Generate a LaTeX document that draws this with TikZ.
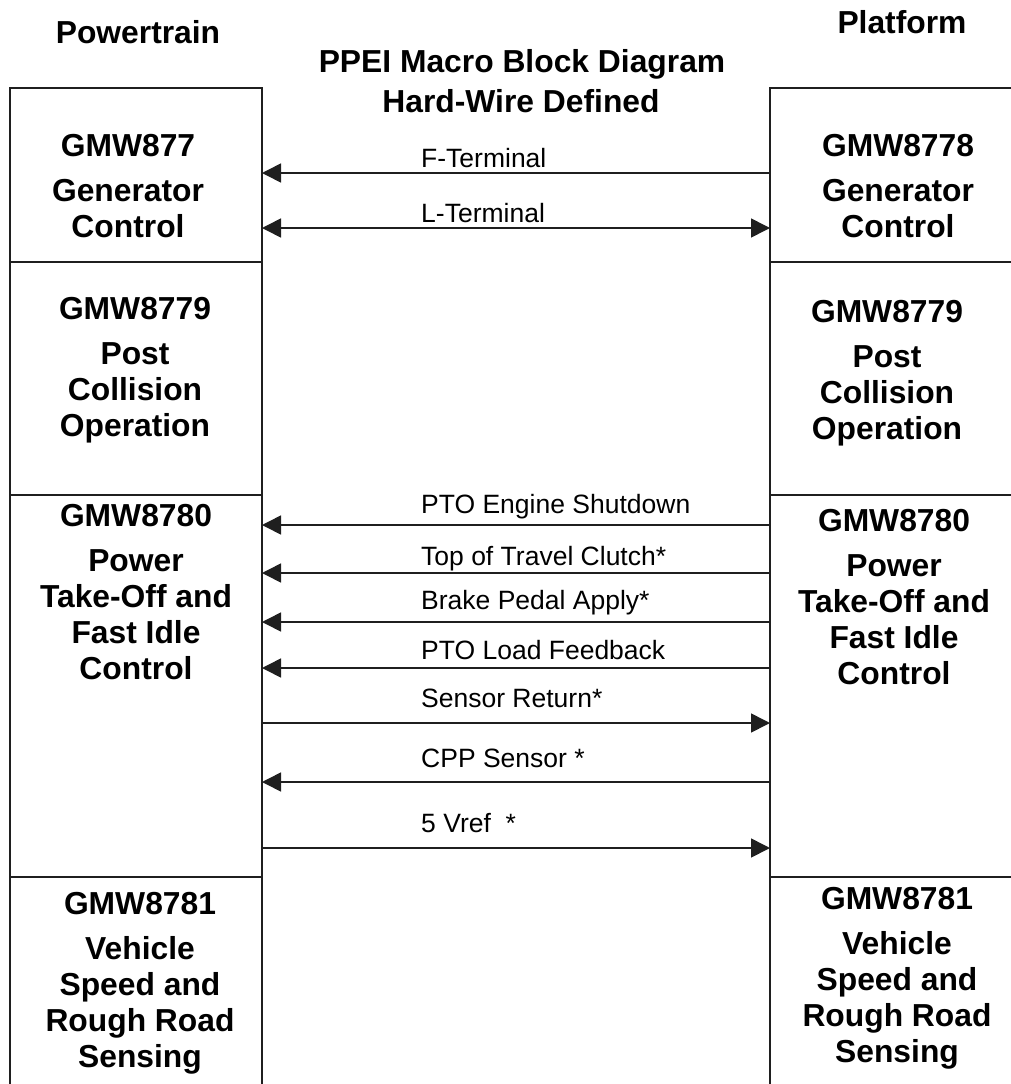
\documentclass[tikz,border=0pt]{standalone}
\usepackage{fontspec}
\setmainfont{Liberation Sans}
\usetikzlibrary{arrows.meta}
\begin{document}
\begin{tikzpicture}[x=1pt,y=-1pt,
  colline/.style={line width=1.6pt, draw=black!88},
  sigarrow/.style={line width=1.6pt, draw=black!88, -{Triangle[length=19pt,width=19pt]}},
  bisig/.style={line width=1.6pt, draw=black!88, {Triangle[length=19pt,width=19pt]}-{Triangle[length=19pt,width=19pt]}},
  blocktext/.style={font=\fontsize{31.8}{36}\selectfont\bfseries, align=center, inner sep=0pt, anchor=north},
  headtext/.style={font=\fontsize{31.8}{36}\selectfont\bfseries, inner sep=0pt, anchor=base},
  sigtext/.style={font=\fontsize{26.5}{30}\selectfont, inner sep=0pt, anchor=base west}
]
\useasboundingbox (0,0) rectangle (1011,1084);

% headings
\node[headtext] (ptrain) at (138,43) {Powertrain};
\node[headtext] (pform) at (902,33) {Platform};
\node[headtext] (title1) at (522,72) {PPEI Macro Block Diagram};
\node[headtext] (title2) at (521,112) {Hard-Wire Defined};

% columns
\draw[colline] (10,1084) -- (10,88) -- (262,88) -- (262,1084);
\draw[colline] (10,262) -- (262,262);
\draw[colline] (10,495) -- (262,495);
\draw[colline] (10,877) -- (262,877);
\draw[colline] (770,1084) -- (770,88) -- (1011,88);
\draw[colline] (770,262) -- (1011,262);
\draw[colline] (770,495) -- (1011,495);
\draw[colline] (770,877) -- (1011,877);

% block texts
\node[blocktext] (pt1) at (128,134.5) {GMW877\\[9pt]Generator\\Control};
\node[blocktext] (pt2) at (135,297.5) {GMW8779\\[9pt]Post\\Collision\\Operation};
\node[blocktext] (pt3) at (136,504.5) {GMW8780\\[9pt]Power\\Take-Off and\\Fast Idle\\Control};
\node[blocktext] (pt4) at (140,892.5) {GMW8781\\[9pt]Vehicle\\Speed and\\Rough Road\\Sensing};
\node[blocktext] (pf1) at (898,134.5) {GMW8778\\[9pt]Generator\\Control};
\node[blocktext] (pf2) at (887,300.5) {GMW8779\\[9pt]Post\\Collision\\Operation};
\node[blocktext] (pf3) at (894,509.5) {GMW8780\\[9pt]Power\\Take-Off and\\Fast Idle\\Control};
\node[blocktext] (pf4) at (897,887.5) {GMW8781\\[9pt]Vehicle\\Speed and\\Rough Road\\Sensing};

% connector end points on the column edges
\foreach \n/\y in {f/173, l/228, a/525, b/573, c/622, d/668, e/723, g/782, h/848} {
  \coordinate (\n L) at (262,\y);
  \coordinate (\n R) at (770,\y);
}

% signals
\draw[sigarrow] (fR) -- (fL);
\draw[bisig] (lL) -- (lR);
\draw[sigarrow] (aR) -- (aL);
\draw[sigarrow] (bR) -- (bL);
\draw[sigarrow] (cR) -- (cL);
\draw[sigarrow] (dR) -- (dL);
\draw[sigarrow] (eL) -- (eR);
\draw[sigarrow] (gR) -- (gL);
\draw[sigarrow] (hL) -- (hR);

% signal labels
\node[sigtext] (tf) at (421,167) {F-Terminal};
\node[sigtext] (tl) at (421,222) {L-Terminal};
\node[sigtext] (ta) at (421,513) {PTO Engine Shutdown};
\node[sigtext] (tb) at (421,565) {Top of Travel Clutch*};
\node[sigtext] (tc) at (421,609) {Brake Pedal Apply*};
\node[sigtext] (td) at (421,659) {PTO Load Feedback};
\node[sigtext] (te) at (421,707) {Sensor Return*};
\node[sigtext] (tg) at (421,767) {CPP Sensor *};
\node[sigtext] (th) at (421,832) {5 Vref\ \ *};
\end{tikzpicture}
\end{document}
